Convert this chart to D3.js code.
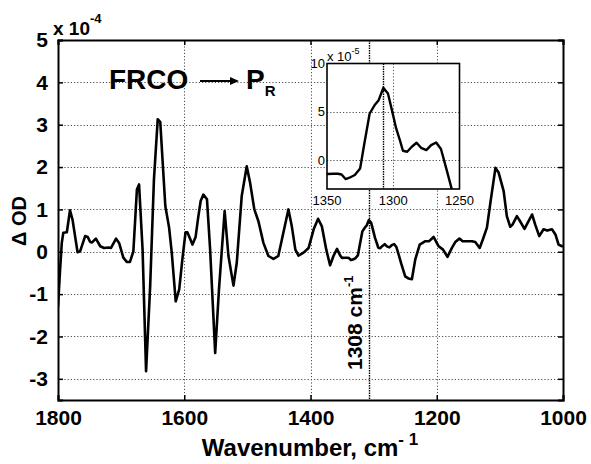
<!DOCTYPE html>
<html><head><meta charset="utf-8">
<script src="https://cdn.jsdelivr.net/npm/d3@7"></script>
<style>
html,body{margin:0;padding:0;background:#fff;}
svg{display:block;font-family:"Liberation Sans",Arial,Helvetica,sans-serif;}
</style></head>
<body><svg id="chart" width="591" height="464"></svg>
<script>
// wavenumber (cm^-1)
const wavenumber = [1800,1797,1794,1791.6,1786,1781,1777,1769,1765,1757,1753,1749,1746,1740,1733,1727,1720,1716,1708,1703,1696.5,1691,1686,1680.6,1675,1671.6,1666,1660.5,1654,1648,1642,1638,1630,1624,1619.8,1613.5,1608,1603,1598,1595,1587,1582,1578,1574,1569.7,1564,1559,1551,1545,1536,1530,1522,1516.8,1509,1501,1495.7,1489,1482.5,1474.6,1466.7,1458.7,1451,1443,1435,1429.6,1424,1419,1411,1403,1395,1388,1382,1375,1369,1363.6,1358,1353,
1350,1345,1341.7,1339,1336,1333,1329,1325,1322,1317.8,1314,1311,1307.5,1304,1301,1297.8,1295,1292.7,1289.5,1286,1282.4,1279,1275,1271.4,1267.6,1264,1260,1256,
1250,1245,1239.4,1234,1227,1218,1212,1205,1197,1190,1183,1176,1170.7,1164,1159,1152,1144,1139,1132,1127,1120.5,1115,1107,1102,1094,1089,1083.6,1080,1073,1068,1061,1056,1049,1044,1037.6,1030.8,1025,1017.5,1012,1007,1001.6,1000];
// ΔOD in units of 1e-4
const deltaOD = [-1.3,-0.5,0.21,0.45,0.46,0.98,0.76,-0.01,0.01,0.37,0.35,0.23,0.22,0.31,0.13,0.09,0.10,0.09,0.31,0.20,-0.14,-0.24,-0.24,0.01,1.47,1.59,0.05,-2.82,-0.81,1.71,3.13,3.06,1.08,0.57,-0.02,-1.17,-0.89,-0.18,0.46,0.46,0.17,0.35,0.8,1.2,1.35,1.24,0.05,-2.39,-0.89,0.96,-0.1,-0.8,-0.26,1.31,2.02,1.63,1.0,0.72,0.21,-0.1,-0.17,-0.1,0.45,1.0,0.6,0.05,-0.09,-0.02,0.09,0.53,0.78,0.6,0.05,-0.32,-0.1,0.07,-0.09,
-0.145,-0.142,-0.142,-0.15,-0.197,-0.183,-0.155,-0.087,0.155,0.482,0.569,0.62,0.748,0.689,0.517,0.327,0.207,0.096,0.086,0.138,0.179,0.127,0.103,0.155,0.182,0.114,-0.087,-0.294,
-0.58,-0.63,-0.65,-0.18,0.17,0.25,0.25,0.35,0.13,0.05,-0.12,0.09,0.23,0.31,0.25,0.25,0.25,0.23,0.09,0.29,0.57,1.16,1.98,1.87,1.43,0.84,0.59,0.64,0.84,0.72,0.54,0.68,0.88,0.64,0.37,0.53,0.5,0.53,0.41,0.17,0.13,0.15];

const xTicks = [1800,1600,1400,1200,1000];
const yTicks = [-3,-2,-1,0,1,2,3,4,5];
const insetXTicks = [1350,1300,1250];
const insetYTicks = [0,5,10];
const markerWavenumber = [1308];

const data = wavenumber.map((w,i)=>({w, v: deltaOD[i]}));

const svg = d3.select("#chart");
const P = {l:58, r:563, t:40, b:400};
const x = d3.scaleLinear().domain([1800,1000]).range([P.l,P.r]);
const y = d3.scaleLinear().domain([-3.5,5]).range([P.b,P.t]);
const px = v => Math.round(v) + 0.5;

const gridColor = "#505050";
const gridDash = "1.2,2";
// grid lines
const gridG = svg.append("g").attr("class","grid").attr("fill","none");
xTicks.filter(t=>t!==1800&&t!==1000).forEach(t=>{
  gridG.append("path").attr("d",`M${px(x(t))},${P.t}V${P.b}`)
    .attr("stroke",gridColor).attr("stroke-width",1).attr("stroke-dasharray",gridDash);
});
yTicks.forEach(t=>{
  gridG.append("path").attr("d",`M${P.l},${px(y(t))}H${P.r}`)
    .attr("stroke",gridColor).attr("stroke-width",1).attr("stroke-dasharray",gridDash);
});

// 1308 marker
markerWavenumber.forEach(m=>{
  svg.append("path").attr("d",`M${px(x(m))},${P.t}V${P.b}`).attr("fill","none")
    .attr("stroke","#000").attr("stroke-width",1.4).attr("stroke-dasharray","1.5,1");
});

// curve
svg.append("clipPath").attr("id","cm").append("rect")
  .attr("x",P.l).attr("y",P.t).attr("width",P.r-P.l).attr("height",P.b-P.t);
const line = d3.line().x(d=>x(d.w)).y(d=>y(d.v));
svg.append("path").datum(data).attr("d",line).attr("fill","none")
  .attr("stroke","#000").attr("stroke-width",2.6).attr("stroke-linejoin","round")
  .attr("clip-path","url(#cm)");

// axes
const fmt = d => String(d);
const axB = svg.append("g").attr("transform",`translate(0,${P.b})`)
  .call(d3.axisBottom(x).tickValues(xTicks).tickSize(-5).tickPadding(10).tickFormat(fmt));
const axT = svg.append("g").attr("transform",`translate(0,${P.t})`)
  .call(d3.axisTop(x).tickValues(xTicks).tickSize(-5).tickFormat(""));
const axL = svg.append("g").attr("transform",`translate(${P.l},0)`)
  .call(d3.axisLeft(y).tickValues(yTicks).tickSize(-5).tickPadding(10).tickFormat(fmt));
const axR = svg.append("g").attr("transform",`translate(${P.r},0)`)
  .call(d3.axisRight(y).tickValues(yTicks).tickSize(-5).tickFormat(""));
[axB,axT,axL,axR].forEach(a=>{
  a.select(".domain").attr("stroke","#000").attr("stroke-width",2);
  a.selectAll(".tick line").attr("stroke","#000").attr("stroke-width",1.5);
  a.selectAll("text").attr("font-family","Liberation Sans, Arial, sans-serif")
   .attr("font-size",21).attr("font-weight","bold").attr("fill","#000");
});
axB.selectAll("text").attr("dy","0.71em");

// exponent label
const ex = svg.append("text").attr("x",53).attr("y",35).attr("font-size",19).attr("font-weight","bold");
ex.append("tspan").text("x 10");
ex.append("tspan").attr("dy",-12).attr("font-size",13).text("-4");

// axis titles
const xl = svg.append("text").attr("x",310).attr("y",456).attr("text-anchor","middle")
  .attr("font-size",24).attr("font-weight","bold");
xl.append("tspan").text("Wavenumber, cm");
xl.append("tspan").attr("dy",-11).attr("font-size",17).text("- 1");
svg.append("text").attr("transform","translate(26,221) rotate(-90)").attr("text-anchor","middle")
  .attr("font-size",20).attr("font-weight","bold").text("Δ OD");

// title annotation
svg.append("text").attr("x",109).attr("y",89).attr("font-size",28).attr("font-weight","bold").text("FRCO");
svg.append("line").attr("x1",200).attr("x2",232).attr("y1",81).attr("y2",81).attr("stroke","#000").attr("stroke-width",2);
svg.append("path").attr("d","M230,77 L239,81 L230,85 Z").attr("fill","#000");
const pr = svg.append("text").attr("x",246).attr("y",89).attr("font-size",28).attr("font-weight","bold");
pr.append("tspan").text("P");
pr.append("tspan").attr("dy",7).attr("font-size",15).text("R");

// 1308 label
const ml = svg.append("text").attr("transform",`translate(${x(markerWavenumber[0])-7},370) rotate(-90)`)
  .attr("font-size",21).attr("font-weight","bold");
ml.append("tspan").text(markerWavenumber[0] + " cm");
ml.append("tspan").attr("dy",-9).attr("font-size",13).text("-1");

// ---------- inset ----------
const I = {l:327, r:459.5, t:63.5, b:189};
const xi = d3.scaleLinear().domain([1350,1250]).range([I.l,I.r]);
const yi = d3.scaleLinear().domain([-3,10]).range([I.b,I.t]);
svg.append("rect").attr("x",I.l).attr("y",I.t).attr("width",I.r-I.l).attr("height",I.b-I.t).attr("fill","#fff");
[1300].forEach(t=>{
  svg.append("path").attr("d",`M${px(xi(t))},${I.t}V${I.b}`).attr("fill","none")
    .attr("stroke",gridColor).attr("stroke-width",1).attr("stroke-dasharray",gridDash);
});
[0,5].forEach(t=>{
  svg.append("path").attr("d",`M${I.l},${px(yi(t))}H${I.r}`).attr("fill","none")
    .attr("stroke",gridColor).attr("stroke-width",1).attr("stroke-dasharray",gridDash);
});
markerWavenumber.forEach(m=>{
  svg.append("path").attr("d",`M${px(xi(m))},${I.t}V${I.b}`).attr("fill","none")
    .attr("stroke","#000").attr("stroke-width",1.4).attr("stroke-dasharray","1.5,1");
});
svg.append("clipPath").attr("id","ci").append("rect")
  .attr("x",I.l).attr("y",I.t).attr("width",I.r-I.l).attr("height",I.b-I.t);
const iline = d3.line().x(d=>xi(d.w)).y(d=>yi(d.v*10));
svg.append("path").datum(data).attr("d",iline).attr("fill","none")
  .attr("stroke","#000").attr("stroke-width",2.4).attr("stroke-linejoin","round")
  .attr("clip-path","url(#ci)");
svg.append("rect").attr("x",I.l).attr("y",I.t).attr("width",I.r-I.l).attr("height",I.b-I.t)
  .attr("fill","none").attr("stroke","#000").attr("stroke-width",1.6);
svg.selectAll("text.ixl").data(insetXTicks).join("text").attr("class","ixl")
  .attr("x",d=>xi(d)).attr("y",205).attr("text-anchor","middle").attr("font-size",13).text(d=>d);
svg.selectAll("text.iyl").data(insetYTicks).join("text").attr("class","iyl")
  .attr("x",I.l-2).attr("y",d=>yi(d)).attr("dy","0.35em").attr("text-anchor","end").attr("font-size",13).text(d=>d);
const iex = svg.append("text").attr("x",327).attr("y",61).attr("font-size",13);
iex.append("tspan").text("x 10");
iex.append("tspan").attr("dy",-7).attr("font-size",9).text("-5");
</script></body></html>
